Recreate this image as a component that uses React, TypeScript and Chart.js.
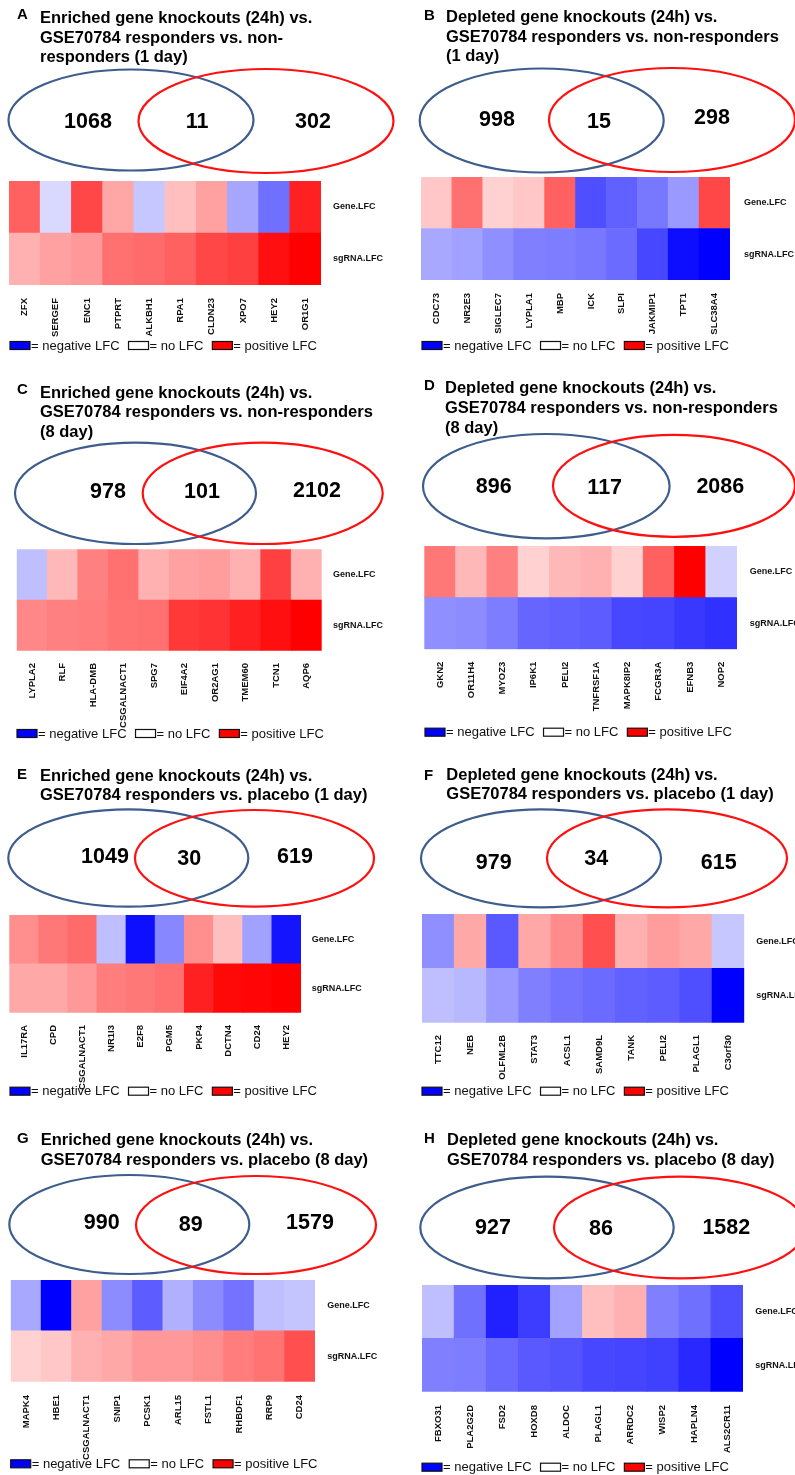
import React, { useEffect, useRef } from 'react';
import { Chart, registerables } from 'chart.js';
Chart.register(...registerables);

const FONT = '"Liberation Sans", Arial, Helvetica, sans-serif';

// ---------- data ----------
const rowLabels = ['sgRNA.LFC', 'Gene.LFC'];
const legendLabels = ['= negative LFC', '= no LFC', '= positive LFC'];

const titleA = ['Enriched gene knockouts (24h) vs.', 'GSE70784 responders vs. non-', 'responders (1 day)'];
const genesA = ['ZFX', 'SERGEF', 'ENC1', 'PTPRT', 'ALKBH1', 'RPA1', 'CLDN23', 'XPO7', 'HEY2', 'OR1G1'];
const geneLfcA = [0.62, -0.15, 0.72, 0.35, -0.22, 0.25, 0.37, -0.35, -0.56, 0.87];
const sgLfcA = [0.31, 0.37, 0.4, 0.56, 0.58, 0.62, 0.72, 0.75, 0.94, 1.0];
const vennA = [1068, 11, 302];

const titleB = ['Depleted gene knockouts (24h) vs.', 'GSE70784 responders vs. non-responders', '(1 day)'];
const genesB = ['CDC73', 'NR2E3', 'SIGLEC7', 'LYPLA1', 'MBP', 'ICK', 'SLPI', 'JAKMIP1', 'TPT1', 'SLC38A4'];
const geneLfcB = [0.22, 0.56, 0.18, 0.22, 0.62, -0.69, -0.62, -0.53, -0.4, 0.72];
const sgLfcB = [-0.34, -0.37, -0.44, -0.5, -0.51, -0.53, -0.58, -0.72, -0.95, -1.0];
const vennB = [998, 15, 298];

const titleC = ['Enriched gene knockouts (24h) vs.', 'GSE70784 responders vs. non-responders', '(8 day)'];
const genesC = ['LYPLA2', 'RLF', 'HLA-DMB', 'CSGALNACT1', 'SPG7', 'EIF4A2', 'OR2AG1', 'TMEM60', 'TCN1', 'AQP6'];
const geneLfcC = [-0.25, 0.28, 0.5, 0.56, 0.31, 0.37, 0.39, 0.31, 0.75, 0.31];
const sgLfcC = [0.47, 0.5, 0.51, 0.55, 0.56, 0.78, 0.8, 0.87, 0.94, 1.0];
const vennC = [978, 101, 2102];

const titleD = ['Depleted gene knockouts (24h) vs.', 'GSE70784 responders vs. non-responders', '(8 day)'];
const genesD = ['GKN2', 'OR11H4', 'MYOZ3', 'IP6K1', 'PELI2', 'TNFRSF1A', 'MAPK8IP2', 'FCGR3A', 'EFNB3', 'NOP2'];
const geneLfcD = [0.53, 0.28, 0.5, 0.18, 0.28, 0.31, 0.18, 0.62, 1.0, -0.18];
const sgLfcD = [-0.44, -0.45, -0.51, -0.6, -0.62, -0.64, -0.72, -0.73, -0.78, -0.81];
const vennD = [896, 117, 2086];

const titleE = ['Enriched gene knockouts (24h) vs.', 'GSE70784 responders vs. placebo (1 day)'];
const genesE = ['IL17RA', 'CPD', 'CSGALNACT1', 'NR1I3', 'E2F8', 'PGM5', 'PKP4', 'DCTN4', 'CD24', 'HEY2'];
const geneLfcE = [0.44, 0.53, 0.58, -0.25, -0.94, -0.47, 0.44, 0.25, -0.37, -0.92];
const sgLfcE = [0.34, 0.34, 0.4, 0.51, 0.53, 0.56, 0.87, 0.97, 0.98, 1.0];
const vennE = [1049, 30, 619];

const titleF = ['Depleted gene knockouts (24h) vs.', 'GSE70784 responders vs. placebo (1 day)'];
const genesF = ['TTC12', 'NEB', 'OLFML2B', 'STAT3', 'ACSL1', 'SAMD9L', 'TANK', 'PELI2', 'PLAGL1', 'C3orf30'];
const geneLfcF = [-0.44, 0.34, -0.65, 0.34, 0.45, 0.69, 0.31, 0.39, 0.34, -0.22];
const sgLfcF = [-0.25, -0.28, -0.4, -0.5, -0.55, -0.58, -0.62, -0.64, -0.69, -1.0];
const vennF = [979, 34, 615];

const titleG = ['Enriched gene knockouts (24h) vs.', 'GSE70784 responders vs. placebo (8 day)'];
const genesG = ['MAPK4', 'HBE1', 'CSGALNACT1', 'SNIP1', 'PCSK1', 'ARL15', 'FSTL1', 'RHBDF1', 'RRP9', 'CD24'];
const geneLfcG = [-0.34, -1.0, 0.37, -0.45, -0.64, -0.31, -0.45, -0.55, -0.25, -0.23];
const sgLfcG = [0.18, 0.22, 0.31, 0.34, 0.4, 0.4, 0.44, 0.51, 0.55, 0.69];
const vennG = [990, 89, 1579];

const titleH = ['Depleted gene knockouts (24h) vs.', 'GSE70784 responders vs. placebo (8 day)'];
const genesH = ['FBXO31', 'PLA2G2D', 'FSD2', 'HOXD8', 'ALDOC', 'PLAGL1', 'ARRDC2', 'WISP2', 'HAPLN4', 'ALS2CR11'];
const geneLfcH = [-0.25, -0.56, -0.87, -0.76, -0.36, 0.25, 0.31, -0.5, -0.56, -0.69];
const sgLfcH = [-0.5, -0.51, -0.59, -0.65, -0.67, -0.72, -0.73, -0.75, -0.84, -1.0];
const vennH = [927, 86, 1582];

// ---------- layout (absolute page pixels) ----------
type Layout = {
  box: [number, number, number, number];
  letter: [number, number];
  titleX: number;
  titleY: number[];
  blue: [number, number, number, number];
  red: [number, number, number, number];
  counts: [number, number][];
  heat: [number, number, number, number];
  tickTop: number;
  rowX: number;
  legend: [number, number];
};

const panels: { letter: string; title: string[]; genes: string[]; gene: number[]; sg: number[]; venn: number[]; L: Layout }[] = [
  { letter: 'A', title: titleA, genes: genesA, gene: geneLfcA, sg: sgLfcA, venn: vennA, L: {
    box: [0, 0, 397, 368], letter: [17, 15], titleX: 40, titleY: [18, 38, 57.5],
    blue: [131, 120, 122.5, 50.5], red: [266, 121, 127.5, 52],
    counts: [[88, 122], [197, 122], [313, 122]], heat: [9, 321, 181, 285], tickTop: 298, rowX: 333, legend: [10, 345] } },
  { letter: 'B', title: titleB, genes: genesB, gene: geneLfcB, sg: sgLfcB, venn: vennB, L: {
    box: [397, 0, 398, 368], letter: [424, 16], titleX: 446, titleY: [17.5, 37, 56.5],
    blue: [541.7, 120.5, 122, 52], red: [672, 120, 123, 52],
    counts: [[497, 120], [599, 122], [712, 118]], heat: [421, 730, 177, 280], tickTop: 293, rowX: 744, legend: [422, 345] } },
  { letter: 'C', title: titleC, genes: genesC, gene: geneLfcC, sg: sgLfcC, venn: vennC, L: {
    box: [0, 368, 397, 377], letter: [17, 390], titleX: 40, titleY: [393, 412.5, 432],
    blue: [135.5, 493.3, 120.5, 50.7], red: [262.7, 493.3, 120, 50.7],
    counts: [[108, 492], [202, 492], [317, 491]], heat: [16.7, 321.7, 549.3, 650.7], tickTop: 663, rowX: 333, legend: [17, 733] } },
  { letter: 'D', title: titleD, genes: genesD, gene: geneLfcD, sg: sgLfcD, venn: vennD, L: {
    box: [397, 368, 398, 377], letter: [424, 386], titleX: 445, titleY: [388, 408, 428],
    blue: [546.3, 486.2, 123.3, 52.2], red: [674, 485.8, 121, 51],
    counts: [[493.7, 486.7], [604.7, 487.7], [720.3, 486.7]], heat: [424.3, 737, 546, 649.3], tickTop: 661.7, rowX: 749.7, legend: [425, 731.7] } },
  { letter: 'E', title: titleE, genes: genesE, gene: geneLfcE, sg: sgLfcE, venn: vennE, L: {
    box: [0, 745, 397, 365], letter: [17, 775], titleX: 40, titleY: [776.3, 795.8],
    blue: [128.3, 858, 120, 48.7], red: [254.5, 858.3, 119.5, 48.3],
    counts: [[105, 856.7], [189.3, 859.3], [295, 857.3]], heat: [9.3, 301, 915, 1012.7], tickTop: 1025, rowX: 311.7, legend: [10, 1090.7] } },
  { letter: 'F', title: titleF, genes: genesF, gene: geneLfcF, sg: sgLfcF, venn: vennF, L: {
    box: [397, 745, 398, 365], letter: [424, 776], titleX: 446.3, titleY: [775, 794],
    blue: [541, 858.3, 120, 49], red: [667, 858.3, 120, 49],
    counts: [[493.7, 862.7], [596.3, 859.3], [718.7, 863.3]], heat: [422, 744.3, 914, 1022.7], tickTop: 1035, rowX: 756.3, legend: [422, 1090.7] } },
  { letter: 'G', title: titleG, genes: genesG, gene: geneLfcG, sg: sgLfcG, venn: vennG, L: {
    box: [0, 1110, 397, 365], letter: [17, 1139], titleX: 40.7, titleY: [1140, 1160],
    blue: [129.3, 1224.5, 120, 49.5], red: [256, 1225, 120, 49],
    counts: [[101.7, 1223.3], [190.7, 1225], [310, 1223.3]], heat: [10.7, 315, 1280, 1381.7], tickTop: 1395, rowX: 327.3, legend: [10.7, 1463.3] } },
  { letter: 'H', title: titleH, genes: genesH, gene: geneLfcH, sg: sgLfcH, venn: vennH, L: {
    box: [397, 1110, 398, 365], letter: [424, 1139], titleX: 447, titleY: [1140, 1160],
    blue: [547, 1227.5, 126.7, 50.8], red: [680, 1227.5, 126, 50.8],
    counts: [[493, 1228.3], [601, 1229.3], [726.3, 1228.3]], heat: [422, 743, 1285, 1391.7], tickTop: 1405, rowX: 755.3, legend: [422, 1466.7] } },
];

function lfcColor(v: number): string {
  const t = Math.max(-1, Math.min(1, v));
  if (t >= 0) {
    const c = Math.round(255 * (1 - t));
    return `rgb(255,${c},${c})`;
  }
  const c = Math.round(255 * (1 + t));
  return `rgb(${c},${c},255)`;
}

function Panel({ p }: { p: (typeof panels)[number] }) {
  const ref = useRef<HTMLCanvasElement>(null);
  const L = p.L;
  const [ox, oy, W, H] = L.box;

  useEffect(() => {
    const canvas = ref.current;
    if (!canvas) return;
    const decor = {
      id: 'decor' + p.letter,
      afterDraw(chart: any) {
        const ctx = chart.ctx as CanvasRenderingContext2D;
        ctx.save();
        ctx.fillStyle = '#000';
        ctx.textBaseline = 'middle';
        ctx.textAlign = 'left';
        // panel letter
        ctx.font = `bold 15px ${FONT}`;
        ctx.fillText(p.letter, L.letter[0] - ox, L.letter[1] - oy);
        // title
        ctx.font = `bold 16.5px ${FONT}`;
        p.title.forEach((line, i) => ctx.fillText(line, L.titleX - ox, L.titleY[i] - oy));
        // Venn ellipses
        ctx.lineWidth = 2.2;
        const ell = (e: number[], col: string) => {
          ctx.beginPath();
          ctx.ellipse(e[0] - ox, e[1] - oy, e[2], e[3], 0, 0, Math.PI * 2);
          ctx.strokeStyle = col;
          ctx.stroke();
        };
        ell(L.blue, '#3d5d8c');
        ell(L.red, '#ff1010');
        // counts
        ctx.font = `bold 21.5px ${FONT}`;
        ctx.textAlign = 'center';
        p.venn.forEach((n, i) => ctx.fillText(String(n), L.counts[i][0] - ox, L.counts[i][1] - oy));
        // legend
        ctx.textAlign = 'left';
        ctx.font = `13px ${FONT}`;
        const fills = ['#0000ff', '#ffffff', '#ff0000'];
        let x = L.legend[0] - ox;
        const y = L.legend[1] - oy;
        ctx.lineWidth = 1.2;
        ctx.strokeStyle = '#111';
        legendLabels.forEach((t, i) => {
          ctx.fillStyle = fills[i];
          ctx.fillRect(x, y - 3.5, 20, 8);
          ctx.strokeRect(x, y - 3.5, 20, 8);
          ctx.fillStyle = '#111';
          ctx.fillText(t, x + 21, y + 1);
          x += 21 + ctx.measureText(t).width + 9;
        });
        ctx.restore();
      },
    };

    const chart = new Chart(canvas, {
      type: 'bar',
      data: {
        labels: p.genes,
        datasets: [
          { label: rowLabels[0], data: p.sg.map(() => 1), backgroundColor: p.sg.map(lfcColor), borderWidth: 0 },
          { label: rowLabels[1], data: p.gene.map(() => 1), backgroundColor: p.gene.map(lfcColor), borderWidth: 0 },
        ],
      },
      options: {
        responsive: false,
        animation: false,
        devicePixelRatio: 1,
        events: [],
        layout: { padding: { left: L.heat[0] - ox, top: L.heat[2] - oy, right: 0, bottom: 0 } },
        datasets: { bar: { barPercentage: 1, categoryPercentage: 1 } },
        plugins: { legend: { display: false }, tooltip: { enabled: false }, title: { display: false } },
        scales: {
          x: {
            stacked: true,
            grid: { display: false, drawTicks: false },
            border: { display: false },
            ticks: {
              autoSkip: false,
              minRotation: 90,
              maxRotation: 90,
              padding: L.tickTop - L.heat[3],
              color: '#111',
              font: { family: FONT, size: 9.5, weight: 'bold' },
            },
            afterFit: (s: any) => { s.height = H - (L.heat[3] - oy); },
          },
          y: {
            stacked: true,
            position: 'right',
            min: 0,
            max: 2,
            grid: { display: false, drawTicks: false },
            border: { display: false },
            afterBuildTicks: (s: any) => { s.ticks = [{ value: 0.5 }, { value: 1.5 }]; },
            ticks: {
              autoSkip: false,
              padding: L.rowX - L.heat[1],
              color: '#111',
              font: { family: FONT, size: 9, weight: 'bold' },
              callback: (v: any) => (v < 1 ? rowLabels[0] : rowLabels[1]),
            },
            afterFit: (s: any) => { s.width = W - (L.heat[1] - ox); },
          },
        },
      } as any,
      plugins: [decor],
    });
    return () => chart.destroy();
  }, []);

  return (
    <canvas
      ref={ref}
      width={W}
      height={H}
      style={{ position: 'absolute', left: ox, top: oy, width: W, height: H, display: 'block' }}
    />
  );
}

export default function App() {
  useEffect(() => {
    document.body.style.margin = '0';
  }, []);
  return (
    <div style={{ position: 'relative', width: 795, height: 1475, background: '#fff', overflow: 'hidden' }}>
      {panels.map((p) => (
        <Panel key={p.letter} p={p} />
      ))}
    </div>
  );
}
